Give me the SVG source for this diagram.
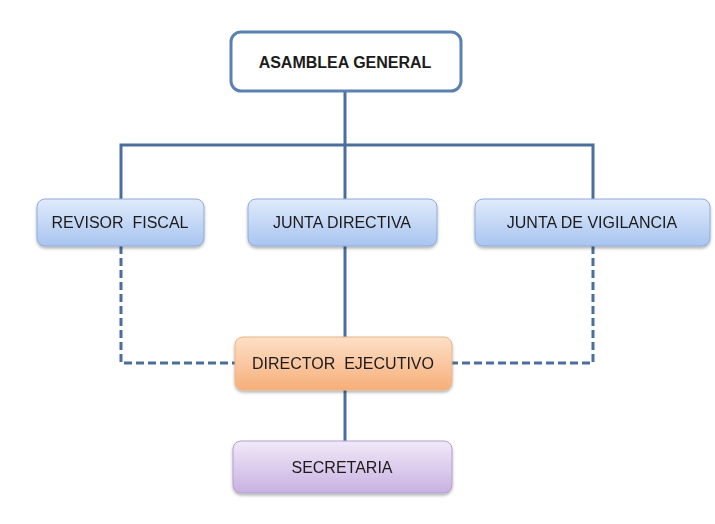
<svg xmlns="http://www.w3.org/2000/svg" width="715" height="524" viewBox="0 0 715 524">
<defs>
<linearGradient id="gBlue" x1="0" y1="0" x2="0" y2="1"><stop offset="0" stop-color="#e0ebfb"/><stop offset="1" stop-color="#a8c4f0"/></linearGradient>
<linearGradient id="gOrange" x1="0" y1="0" x2="0" y2="1"><stop offset="0" stop-color="#fde0c8"/><stop offset="1" stop-color="#f7ae78"/></linearGradient>
<linearGradient id="gPurple" x1="0" y1="0" x2="0" y2="1"><stop offset="0" stop-color="#f1e9f8"/><stop offset="1" stop-color="#c8b1e2"/></linearGradient>
<filter id="sh" x="-10%" y="-10%" width="120%" height="140%"><feDropShadow dx="0" dy="2" stdDeviation="1.5" flood-color="#000" flood-opacity="0.3"/></filter>
</defs>
<style>
text{font-family:"Liberation Sans",Arial,sans-serif;font-size:16px;fill:#1b1b1b;text-anchor:middle;dominant-baseline:central;white-space:pre}
.solid{stroke:#4a6f9c;stroke-width:3;fill:none}
.dash{stroke:#4a6f9c;stroke-width:3;fill:none;stroke-dasharray:8 4}
.blue{fill:url(#gBlue);stroke:#8eacd8;stroke-width:1}
</style>
<rect width="715" height="524" fill="#ffffff"/>
<g id="connectors">
<path class="solid" d="M345 91V145M121 199V145H593V199M345 145V199M345 246V337M345 390V441"/>
<path class="dash" d="M121 246V363H235M593 246V363H452"/>
</g>
<g id="asamblea">
<rect x="231" y="32" width="230" height="59" rx="10" fill="#ffffff" stroke="#5b80b2" stroke-width="3"/>
<text x="345" y="62" font-weight="bold" font-size="17">ASAMBLEA GENERAL</text>
</g>
<g id="revisor" filter="url(#sh)">
<rect class="blue" x="37" y="199" width="167" height="47" rx="8"/>
<text x="120" y="222" xml:space="preserve">REVISOR  FISCAL</text>
</g>
<g id="junta-directiva" filter="url(#sh)">
<rect class="blue" x="248" y="199" width="189" height="47" rx="8"/>
<text x="342" y="222">JUNTA DIRECTIVA</text>
</g>
<g id="junta-vigilancia" filter="url(#sh)">
<rect class="blue" x="475" y="199" width="235" height="47" rx="8"/>
<text x="592" y="222">JUNTA DE VIGILANCIA</text>
</g>
<g id="director" filter="url(#sh)">
<rect x="235" y="337" width="217" height="53" rx="8" fill="url(#gOrange)" stroke="#e8b58a" stroke-width="1"/>
<text x="343" y="363" xml:space="preserve">DIRECTOR  EJECUTIVO</text>
</g>
<g id="secretaria" filter="url(#sh)">
<rect x="233" y="441" width="219" height="52" rx="8" fill="url(#gPurple)" stroke="#b3a0cc" stroke-width="1"/>
<text x="342" y="467">SECRETARIA</text>
</g>
</svg>
